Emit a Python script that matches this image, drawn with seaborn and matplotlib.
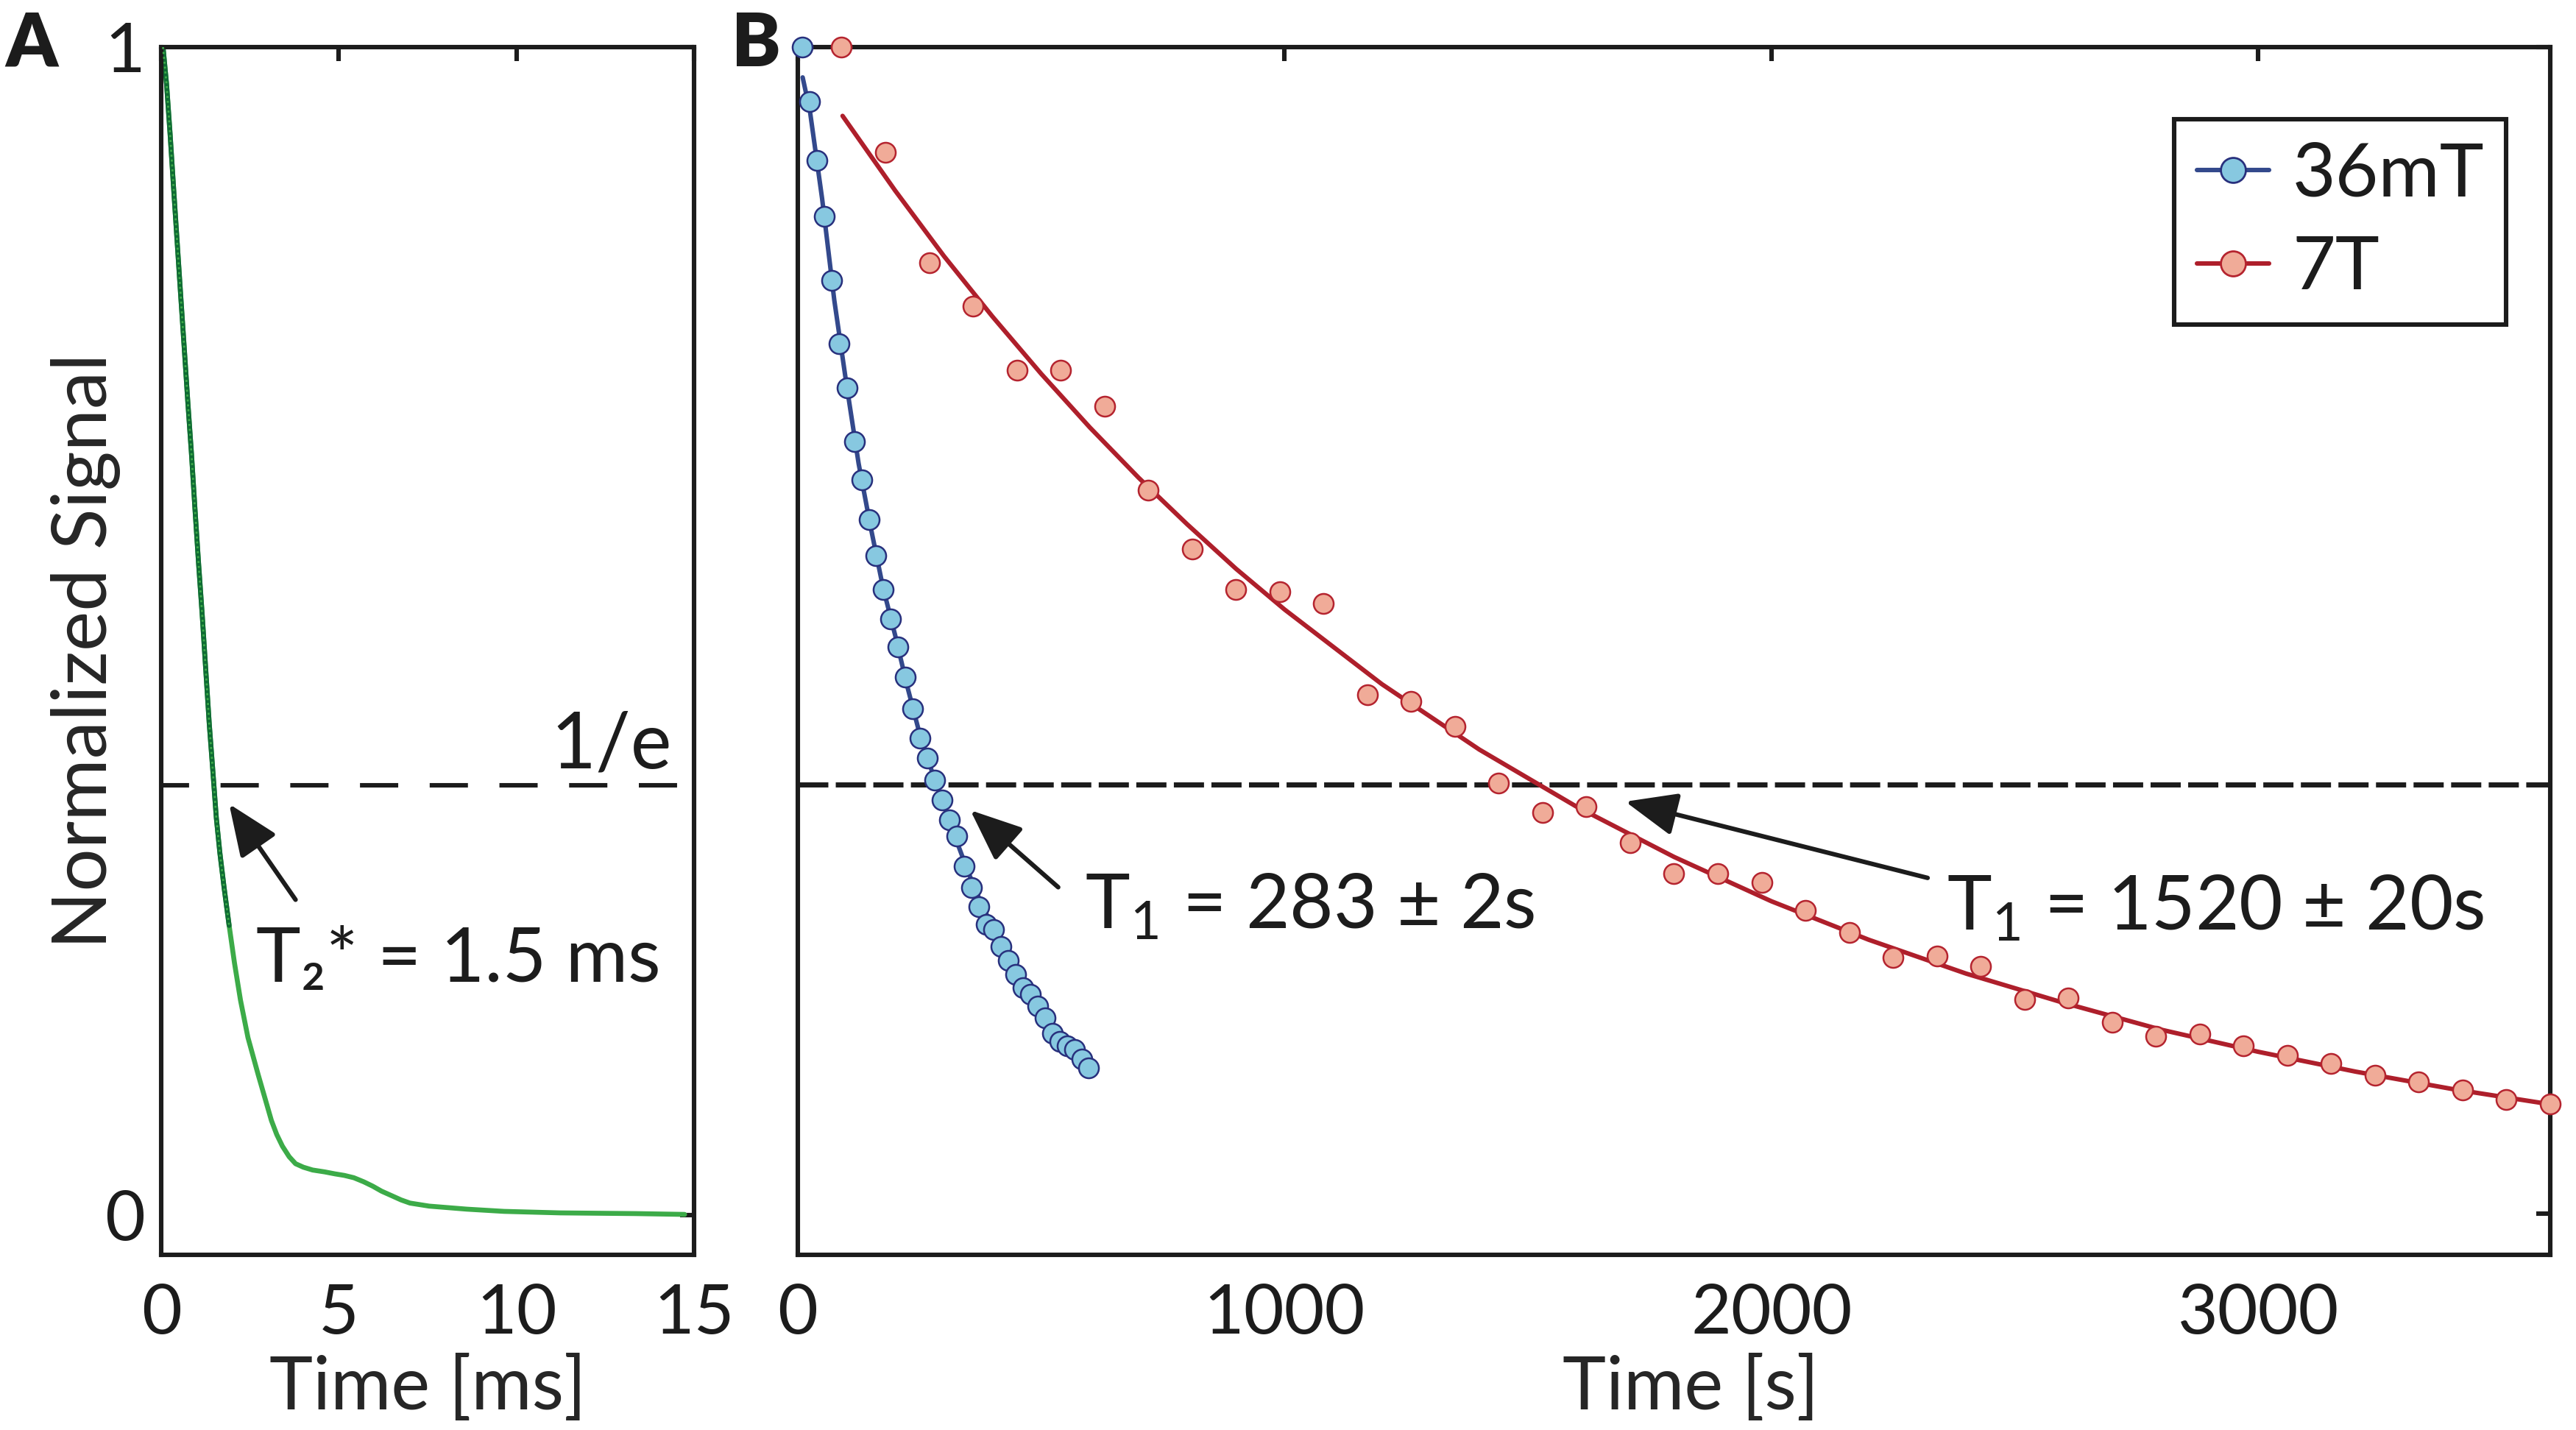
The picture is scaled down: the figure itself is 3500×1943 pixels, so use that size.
import numpy as np
import pandas as pd
import seaborn as sns
import matplotlib.pyplot as plt
from matplotlib.lines import Line2D
from matplotlib.patches import ArrowStyle

# panel A: free induction decay
fid_t = [0.05, 0.15, 0.25, 0.35, 0.45, 0.55, 0.65, 0.75, 0.85, 0.95, 1.05, 1.15,
         1.25, 1.35, 1.45, 1.55, 1.65, 1.77, 1.91, 2.06, 2.23, 2.44, 2.73, 2.92,
         3.10, 3.25, 3.41, 3.60, 3.78, 4.00, 4.26, 4.60, 4.89, 5.15, 5.42, 5.70,
         5.95, 6.20, 6.48, 6.75, 7.00, 7.54, 8.60, 9.65, 11.23, 13.35, 14.73]
fid_s = [1.000, 0.968, 0.925, 0.878, 0.832, 0.786, 0.741, 0.695, 0.652, 0.604, 0.558, 0.515,
         0.468, 0.421, 0.381, 0.340, 0.310, 0.280, 0.248, 0.216, 0.184, 0.152, 0.120, 0.100,
         0.081, 0.069, 0.059, 0.050, 0.044, 0.041, 0.0386, 0.037, 0.0353, 0.034, 0.032, 0.0285,
         0.0248, 0.0205, 0.0167, 0.013, 0.0103, 0.0077, 0.0051, 0.0032, 0.0019, 0.0013, 0.0006]

# panel B: 36 mT data + fit
t36 = [9, 24, 39, 54, 70, 85, 101, 116, 131, 146, 161, 176, 191, 206, 221, 236, 251, 266,
       282, 297, 312, 327, 342, 357, 372, 387, 402, 417, 432, 448, 463, 478, 493, 508,
       523, 538, 553, 568, 583, 598]
s36 = [1.000, 0.953, 0.903, 0.855, 0.800, 0.746, 0.708, 0.662, 0.629, 0.595, 0.564, 0.535,
       0.510, 0.486, 0.460, 0.433, 0.408, 0.391, 0.372, 0.355, 0.338, 0.324, 0.298, 0.280,
       0.263, 0.248, 0.244, 0.229, 0.217, 0.205, 0.194, 0.188, 0.178, 0.168, 0.155, 0.148,
       0.144, 0.141, 0.133, 0.125]
fit36_t = [10, 25, 50, 75, 100, 125, 150, 175, 200, 225, 250, 275, 300, 325, 350, 375,
           400, 425, 450, 475, 500, 525, 550, 575, 600]
fit36_s = [0.974, 0.945, 0.870, 0.783, 0.711, 0.643, 0.588, 0.537, 0.496, 0.452, 0.412, 0.380,
           0.350, 0.321, 0.293, 0.268, 0.246, 0.225, 0.206, 0.189, 0.174, 0.160, 0.147, 0.135, 0.124]

# panel B: 7 T data + fit
t7 = [90, 180, 270, 360, 450, 540, 630, 720, 810, 900, 990, 1080, 1170, 1260, 1350, 1440,
      1530, 1620, 1710, 1800, 1890, 1980, 2070, 2160, 2250, 2340, 2430, 2520, 2610, 2700,
      2790, 2880, 2970, 3060, 3150, 3240, 3330, 3420, 3510, 3600]
s7 = [1.000, 0.910, 0.815, 0.778, 0.723, 0.723, 0.692, 0.620, 0.570, 0.535, 0.533, 0.523,
      0.445, 0.439, 0.418, 0.369, 0.344, 0.349, 0.318, 0.292, 0.292, 0.284, 0.260, 0.241,
      0.220, 0.221, 0.212, 0.184, 0.185, 0.164, 0.152, 0.154, 0.144, 0.136, 0.129, 0.119,
      0.113, 0.106, 0.098, 0.094]
fit7_t = [92, 200, 300, 400, 500, 600, 700, 800, 900, 1000, 1200, 1400, 1600, 1800, 2000,
          2200, 2400, 2600, 2800, 3000, 3200, 3400, 3600]
fit7_s = [0.941, 0.877, 0.821, 0.769, 0.720, 0.674, 0.631, 0.591, 0.553, 0.518, 0.454, 0.398,
          0.349, 0.306, 0.268, 0.235, 0.206, 0.181, 0.158, 0.139, 0.122, 0.107, 0.094]

labels = ["36mT", "7T"]

sns.set_style("white")
plt.rcParams["font.family"] = ["Lato", "DejaVu Sans"]
plt.rcParams["mathtext.fontset"] = "custom"
plt.rcParams["mathtext.rm"] = "Lato"
plt.rcParams["axes.edgecolor"] = "#1c1c1c"
plt.rcParams["axes.linewidth"] = 2.2
plt.rcParams["text.color"] = "#1c1c1c"

blue_fill, blue_edge, blue_line = "#87c8e0", "#28307d", "#33498c"
red_fill, red_edge, red_line = "#f0ab98", "#b5242f", "#ae1f2b"
green_light, green_dark = "#3cab48", "#0f6b34"
k = "#1c1c1c"

fig = plt.figure(figsize=(17.5, 9.715), dpi=200)
axA = fig.add_axes([0.0626, 0.1225, 0.2069, 0.8446])
axB = fig.add_axes([0.3097, 0.1225, 0.6803, 0.8446])

tick_cfg = dict(direction="in", top=True, right=True, length=7, width=2.2,
                labelsize=34, colors=k)
arrow = ArrowStyle("-|>", head_length=1.2, head_width=0.5)
ann_size = 37

# ---- panel A
fid = pd.DataFrame({"t": fid_t, "s": fid_s})
axA.axhline(1 / np.e, color=k, lw=2.2, ls=(2.3, (8.5, 7)), zorder=1)
sns.lineplot(data=fid, x="t", y="s", ax=axA, color=green_light, lw=2.4,
             estimator=None, sort=False, zorder=3)
early = fid[fid["t"] <= 1.91]
sns.lineplot(data=early, x="t", y="s", ax=axA, color=green_dark, lw=2.4,
             estimator=None, sort=False, zorder=4)
axA.plot(early["t"], early["s"], color=green_light, lw=1.0, ls=(0, (1, 1.4)), zorder=5)

axA.set_xlim(0, 15)
axA.set_ylim(-0.034, 1)
axA.set_xticks([0, 5, 10, 15])
axA.set_yticks([0, 1])
axA.set_yticklabels(["0", "1"])
axA.tick_params(**tick_cfg)
axA.tick_params(axis="x", pad=14)
axA.tick_params(axis="y", pad=8)
axA.set_xlabel("Time [ms]", fontsize=36)
axA.set_ylabel("Normalized Signal", fontsize=37)
axA.xaxis.set_label_coords(0.5, -0.082)
axA.yaxis.set_label_coords(-0.076, 0.5)

axA.text(14.36, 0.383, "1/e", ha="right", va="baseline", fontsize=38)
axA.text(2.67, 0.200, "T\u2082* = 1.5 ms", ha="left", va="baseline", fontsize=ann_size)
axA.annotate("", xy=(1.91, 0.352), xytext=(3.78, 0.270),
             arrowprops=dict(arrowstyle=arrow, color=k, lw=2.2, mutation_scale=18,
                             shrinkA=0, shrinkB=0))

# ---- panel B
axB.axhline(1 / np.e, color=k, lw=2.5, ls=(0, (5.9, 1.45)), zorder=1)
sns.lineplot(x=fit36_t, y=fit36_s, ax=axB, color=blue_line, lw=2.2,
             estimator=None, sort=False, zorder=3)
sns.lineplot(x=fit7_t, y=fit7_s, ax=axB, color=red_line, lw=2.2,
             estimator=None, sort=False, zorder=3)
sns.scatterplot(x=t36, y=s36, ax=axB, s=95, color=blue_fill, edgecolor=blue_edge,
                linewidth=0.9, zorder=6, clip_on=False)
sns.scatterplot(x=t7, y=s7, ax=axB, s=95, color=red_fill, edgecolor=red_edge,
                linewidth=0.9, zorder=6, clip_on=False)

axB.set_xlim(0, 3600)
axB.set_ylim(-0.035, 1)
axB.set_xticks([0, 1000, 2000, 3000])
axB.set_yticks([0, 1])
axB.tick_params(**tick_cfg)
axB.tick_params(axis="x", pad=14)
axB.tick_params(labelleft=False)
axB.set_xlabel("Time [s]", fontsize=36)
axB.set_ylabel("")
axB.xaxis.set_label_coords(0.5097, -0.082)

axB.text(590, 0.2446, r"$\mathregular{T_1}$ = 283 ± 2s", ha="left", va="baseline",
         fontsize=ann_size)
axB.annotate("", xy=(354.5, 0.346), xytext=(535, 0.280),
             arrowprops=dict(arrowstyle=arrow, color=k, lw=2.2, mutation_scale=18,
                             shrinkA=0, shrinkB=0))
axB.text(2360, 0.2437, r"$\mathregular{T_1}$ = 1520 ± 20s", ha="left", va="baseline",
         fontsize=ann_size)
axB.annotate("", xy=(1700, 0.3534), xytext=(2321, 0.288),
             arrowprops=dict(arrowstyle=arrow, color=k, lw=2.2, mutation_scale=18,
                             shrinkA=0, shrinkB=0))

handles = [
    Line2D([], [], color=blue_line, lw=2.2, marker="o", ms=12.2, mfc=blue_fill,
           mec=blue_edge, mew=1.0),
    Line2D([], [], color=red_line, lw=2.2, marker="o", ms=12.2, mfc=red_fill,
           mec=red_edge, mew=1.0),
]
leg = axB.legend(handles, labels, loc="upper right", bbox_to_anchor=(0.975, 0.940),
                 fontsize=36.5, frameon=True, fancybox=False, edgecolor=k, framealpha=1,
                 handlelength=0.97, handletextpad=0.31, borderpad=0.3, labelspacing=0.35,
                 borderaxespad=0)
leg.get_frame().set_linewidth(2.2)

for ax in (axA, axB):
    for sp in ax.spines.values():
        sp.set_zorder(4)

fig.text(0.002, 0.9537, "A", fontsize=36, fontweight="heavy", va="baseline")
fig.text(0.284, 0.9537, "B", fontsize=36, fontweight="heavy", va="baseline")

fig.savefig("out.png", dpi=200, facecolor="white")
